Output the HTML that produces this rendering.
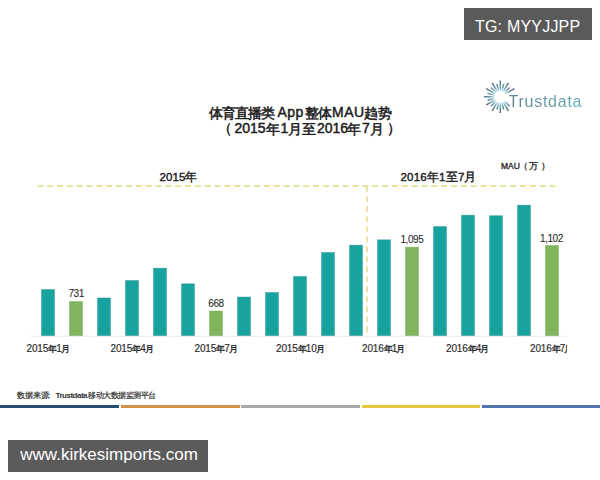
<!DOCTYPE html>
<html><head><meta charset="utf-8">
<style>
html,body{margin:0;padding:0;width:600px;height:480px;overflow:hidden;background:#fff;}
body{position:relative;font-family:"Liberation Sans",sans-serif;}
.t{position:absolute;white-space:nowrap;line-height:1;}
#tg{position:absolute;left:464px;top:8px;width:128px;height:31.5px;background:#5a5a5a;color:#fff;font-size:16px;letter-spacing:0.2px;}
#tg span{position:absolute;left:11px;top:9.5px;}
#www{position:absolute;left:8px;top:440px;width:200px;height:32px;background:#5b5b5b;color:#fff;font-size:17px;}
#www span{position:absolute;left:12.3px;top:5px;}
.title{color:#1a1a1a;-webkit-text-stroke:0.5px #1a1a1a;}
.title.c{font-size:14px;}
.title.l{font-size:14px;-webkit-text-stroke:0.45px #1a1a1a;}
.lab{font-size:10px;color:#2a2a2a;letter-spacing:-0.15px;-webkit-text-stroke:0.15px #2a2a2a;}
.lab i{font-style:normal;font-size:9px;letter-spacing:-0.9px;-webkit-text-stroke:0.35px #2a2a2a;}
.lab i+i,.lab .m{margin-left:-0.9px;}
.val{font-size:10px;color:#222;letter-spacing:-0.45px;-webkit-text-stroke:0.05px #222;}
.hd{font-size:11.5px;color:#1a1a1a;letter-spacing:0.2px;-webkit-text-stroke:0.4px #1a1a1a;}
.src{font-size:7.5px;color:#333;-webkit-text-stroke:0.2px #333;}
.mau{font-size:8.5px;color:#222;-webkit-text-stroke:0.3px #222;}
.seg{position:absolute;top:405px;height:3px;}
#logo{position:absolute;left:508.5px;top:93.5px;font-size:16px;letter-spacing:0.75px;color:#5a8e9e;background:linear-gradient(90deg,#5f818d,#66aabd);-webkit-background-clip:text;background-clip:text;-webkit-text-fill-color:transparent;}
</style></head><body>
<svg width="600" height="480" style="position:absolute;left:0;top:0">
<line x1="37.3" y1="186.2" x2="556" y2="186.2" stroke="#dad464" stroke-width="1.2" stroke-dasharray="6,3.85"/>
<line x1="367" y1="186.2" x2="367" y2="337.5" stroke="#e5d27c" stroke-width="1.3" stroke-dasharray="6,4"/>
<line x1="30" y1="336.3" x2="567" y2="336.3" stroke="#eeeeee" stroke-width="1"/>
<rect x="41.5" y="289.5" width="13" height="46.1" fill="#18a3a0" stroke="#12807e" stroke-opacity="0.35" stroke-width="1"/>
<rect x="69.5" y="301.5" width="13" height="34.1" fill="#80b55e" stroke="#5f9a44" stroke-opacity="0.35" stroke-width="1"/>
<rect x="97.5" y="298.0" width="13" height="37.6" fill="#18a3a0" stroke="#12807e" stroke-opacity="0.35" stroke-width="1"/>
<rect x="125.5" y="280.5" width="13" height="55.1" fill="#18a3a0" stroke="#12807e" stroke-opacity="0.35" stroke-width="1"/>
<rect x="153.5" y="268.2" width="13" height="67.4" fill="#18a3a0" stroke="#12807e" stroke-opacity="0.35" stroke-width="1"/>
<rect x="181.5" y="283.8" width="13" height="51.8" fill="#18a3a0" stroke="#12807e" stroke-opacity="0.35" stroke-width="1"/>
<rect x="209.5" y="311.0" width="13" height="24.6" fill="#80b55e" stroke="#5f9a44" stroke-opacity="0.35" stroke-width="1"/>
<rect x="237.5" y="297.0" width="13" height="38.6" fill="#18a3a0" stroke="#12807e" stroke-opacity="0.35" stroke-width="1"/>
<rect x="265.5" y="292.5" width="13" height="43.1" fill="#18a3a0" stroke="#12807e" stroke-opacity="0.35" stroke-width="1"/>
<rect x="293.5" y="276.5" width="13" height="59.1" fill="#18a3a0" stroke="#12807e" stroke-opacity="0.35" stroke-width="1"/>
<rect x="321.5" y="252.5" width="13" height="83.1" fill="#18a3a0" stroke="#12807e" stroke-opacity="0.35" stroke-width="1"/>
<rect x="349.5" y="245.2" width="13" height="90.4" fill="#18a3a0" stroke="#12807e" stroke-opacity="0.35" stroke-width="1"/>
<rect x="377.5" y="239.8" width="13" height="95.8" fill="#18a3a0" stroke="#12807e" stroke-opacity="0.35" stroke-width="1"/>
<rect x="405.5" y="247.2" width="13" height="88.4" fill="#80b55e" stroke="#5f9a44" stroke-opacity="0.35" stroke-width="1"/>
<rect x="433.5" y="226.5" width="13" height="109.1" fill="#18a3a0" stroke="#12807e" stroke-opacity="0.35" stroke-width="1"/>
<rect x="461.5" y="215.2" width="13" height="120.4" fill="#18a3a0" stroke="#12807e" stroke-opacity="0.35" stroke-width="1"/>
<rect x="489.5" y="215.7" width="13" height="119.9" fill="#18a3a0" stroke="#12807e" stroke-opacity="0.35" stroke-width="1"/>
<rect x="517.5" y="205.2" width="13" height="130.4" fill="#18a3a0" stroke="#12807e" stroke-opacity="0.35" stroke-width="1"/>
<rect x="545.5" y="245.5" width="13" height="90.1" fill="#80b55e" stroke="#5f9a44" stroke-opacity="0.35" stroke-width="1"/>
<defs><radialGradient id="rg" gradientUnits="userSpaceOnUse" cx="500.3" cy="96.8" r="16.5"><stop offset="0.38" stop-color="#c4e6f0"/><stop offset="0.6" stop-color="#6d9cac"/><stop offset="1" stop-color="#4a6773"/></radialGradient></defs>
<g stroke="url(#rg)" stroke-width="1.45" stroke-linecap="butt">
<line x1="505.50" y1="93.80" x2="514.33" y2="88.70"/>
<line x1="504.54" y1="92.56" x2="509.63" y2="87.47"/>
<line x1="503.30" y1="91.60" x2="508.40" y2="82.77"/>
<line x1="501.85" y1="91.00" x2="503.72" y2="84.05"/>
<line x1="500.30" y1="90.80" x2="500.30" y2="80.60"/>
<line x1="498.75" y1="91.00" x2="496.88" y2="84.05"/>
<line x1="497.30" y1="91.60" x2="492.20" y2="82.77"/>
<line x1="496.06" y1="92.56" x2="490.97" y2="87.47"/>
<line x1="495.10" y1="93.80" x2="486.27" y2="88.70"/>
<line x1="494.50" y1="95.25" x2="487.55" y2="93.38"/>
<line x1="494.30" y1="96.80" x2="484.10" y2="96.80"/>
<line x1="494.50" y1="98.35" x2="487.55" y2="100.22"/>
<line x1="495.10" y1="99.80" x2="486.27" y2="104.90"/>
<line x1="496.06" y1="101.04" x2="490.97" y2="106.13"/>
<line x1="497.30" y1="102.00" x2="492.20" y2="110.83"/>
<line x1="498.75" y1="102.60" x2="496.88" y2="109.55"/>
<line x1="500.30" y1="102.80" x2="500.30" y2="113.00"/>
<line x1="501.85" y1="102.60" x2="503.72" y2="109.55"/>
<line x1="503.30" y1="102.00" x2="508.40" y2="110.83"/>
<line x1="504.54" y1="101.04" x2="509.63" y2="106.13"/>
</g>
</svg>
<div class="t title c" style="left:208.5px;top:105.5px;letter-spacing:-0.8px">体育直播类</div>
<div class="t title l" style="left:277.5px;top:105px;letter-spacing:0.5px">App</div>
<div class="t title c" style="left:304.5px;top:105.5px;letter-spacing:-0.6px">整体</div>
<div class="t title l" style="left:332px;top:105px;letter-spacing:0.5px">MAU</div>
<div class="t title c" style="left:364px;top:105.5px;letter-spacing:0.4px">趋势</div>
<div class="t title c" style="left:217.5px;top:120.5px;">（</div>
<div class="t title l" style="left:234.5px;top:121px;">2015</div>
<div class="t title c" style="left:265.5px;top:121.5px;">年</div>
<div class="t title l" style="left:280.5px;top:121px;">1</div>
<div class="t title c" style="left:287.5px;top:121.5px;">月</div>
<div class="t title c" style="left:301.5px;top:121.5px;">至</div>
<div class="t title l" style="left:317px;top:121px;">2016</div>
<div class="t title c" style="left:347px;top:121.5px;">年</div>
<div class="t title l" style="left:362px;top:121px;">7</div>
<div class="t title c" style="left:369.5px;top:121.5px;">月</div>
<div class="t title c" style="left:387.3px;top:120.5px;">）</div>
<div class="t hd" style="left:159.5px;top:172px;letter-spacing:0.1px">2015年</div>
<div class="t hd" style="left:400.5px;top:171.5px;">2016年1至7月</div>
<div class="t mau" style="left:501px;top:161.5px;">MAU</div>
<div class="t mau" style="left:518.5px;top:161.5px;">（</div>
<div class="t mau" style="left:529px;top:161.5px;">万</div>
<div class="t mau" style="left:541px;top:161.5px;">）</div>
<div class="t val" style="left:68.5px;top:288.5px;">731</div>
<div class="t val" style="left:208.3px;top:299px;">668</div>
<div class="t val" style="left:400.5px;top:235px;">1,095</div>
<div class="t val" style="left:540px;top:234px;">1,102</div>
<div class="t lab" style="left:26.5px;top:344px;">2015<i>年</i>1<i class="m">月</i></div>
<div class="t lab" style="left:110.5px;top:344px;">2015<i>年</i>4<i class="m">月</i></div>
<div class="t lab" style="left:194.5px;top:344px;">2015<i>年</i>7<i class="m">月</i></div>
<div class="t lab" style="left:276px;top:344px;">2015<i>年</i>10<i class="m">月</i></div>
<div class="t lab" style="left:362px;top:344px;">2016<i>年</i>1<i class="m">月</i></div>
<div class="t lab" style="left:446px;top:344px;">2016<i>年</i>4<i class="m">月</i></div>
<div class="t lab" style="left:530px;top:344px;width:37px;overflow:hidden;">2016<i>年</i>7<i class="m">月</i></div>
<div class="t src" style="left:17px;top:392px;letter-spacing:-0.1px">数据来源</div>
<div class="t src" style="left:45px;top:392px;">：</div>
<div class="t src" style="left:55.5px;top:391.5px;font-size:8px;font-weight:bold;letter-spacing:-0.5px;-webkit-text-stroke:0">Trustdata</div>
<div class="t src" style="left:88px;top:392px;letter-spacing:-0.5px">移动大数据监测平台</div>
<div class="seg" style="left:0;width:119px;background:#244f72"></div>
<div class="seg" style="left:121px;width:119px;background:#d3944a"></div>
<div class="seg" style="left:241px;width:119px;background:#a9a9a9"></div>
<div class="seg" style="left:362px;width:118px;background:#e4c63c"></div>
<div class="seg" style="left:482px;width:118px;background:#4f76ad"></div>
<div id="logo" class="t">Trustdata</div>
<div id="tg"><span>TG: MYYJJPP</span></div>
<div id="www"><span>www.kirkesimports.com</span></div>
</body></html>
